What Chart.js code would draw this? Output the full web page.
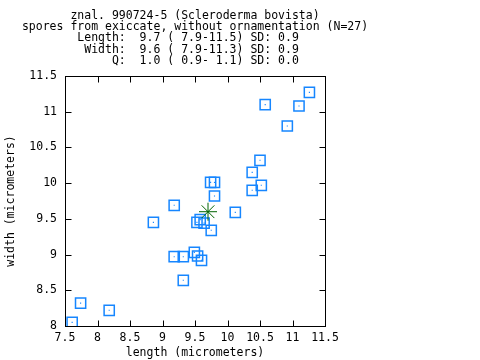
<!DOCTYPE html>
<html>
<head>
<meta charset="utf-8">
<script src="https://cdn.jsdelivr.net/npm/chart.js@4/dist/chart.umd.min.js"></script>
<style>
  html, body { margin: 0; padding: 0; background: #fff; }
  #wrap { width: 480px; height: 360px; }
</style>
</head>
<body>
<div id="wrap"><canvas id="spores"></canvas></div>
<script>
const lengths = [7.61, 7.74, 8.18, 8.86, 9.18, 9.18, 9.32, 9.32, 9.49, 9.54, 9.60, 9.75, 9.53, 9.58,
                 9.64, 10.12, 9.80, 9.74, 9.80, 10.38, 10.52, 10.38, 10.50, 10.92, 10.58, 11.10, 11.26]
const widths = [8.05, 8.32, 8.22, 9.45, 9.69, 8.97, 8.97, 8.64, 9.03, 8.98, 8.92, 9.34, 9.45, 9.49,
                9.44, 9.59, 9.82, 10.01, 10.01, 9.90, 9.97, 10.15, 10.32, 10.80, 11.10, 11.08, 11.27]
const meanPoint = [9.7, 9.6]

const xTicks = [7.5, 8, 8.5, 9, 9.5, 10, 10.5, 11, 11.5]
const yTicks = [8, 8.5, 9, 9.5, 10, 10.5, 11, 11.5]

const headerLines = [
    'znal. 990724-5 (Scleroderma bovista)',
    'spores from exiccate, without ornamentation (N=27)',
    'Length:  9.7 ( 7.9-11.5) SD: 0.9  ',
    ' Width:  9.6 ( 7.9-11.3) SD: 0.9  ',
    '     Q:  1.0 ( 0.9- 1.1) SD: 0.0  ',
]

const FONT = "'DejaVu Sans Mono', monospace"
const BLUE = 'rgb(22,134,255)'

const points = lengths.map((l, i) => ({x: l, y: widths[i]}))

// header text above the plot, centered on the plot area
const headerPlugin = {
    id: 'header',
    afterDraw: chart => {
        const ctx = chart.ctx
        const area = chart.chartArea
        const cx = (area.left + area.right) / 2
        ctx.save()
        ctx.font = '11.5px ' + FONT
        ctx.fillStyle = '#000'
        ctx.textAlign = 'center'
        ctx.textBaseline = 'middle'
        headerLines.forEach((line, i) => {
            ctx.fillText(line, cx, 16 + i * 11.2)
        })
        ctx.restore()
    }
}

// box frame with inward ticks on all four sides
const framePlugin = {
    id: 'frame',
    afterDraw: chart => {
        const ctx = chart.ctx
        const a = chart.chartArea
        const xs = chart.scales.x
        const ys = chart.scales.y
        const tl = 6
        const L = Math.round(a.left) + 0.5
        const R = Math.round(a.right) + 0.5
        const T = Math.round(a.top) + 0.5
        const B = Math.round(a.bottom) + 0.5
        ctx.save()
        ctx.strokeStyle = '#000'
        ctx.lineWidth = 1
        ctx.strokeRect(L, T, R - L, B - T)
        ctx.beginPath()
        for (const v of xTicks) {
            const px = Math.round(xs.getPixelForValue(v)) + 0.5
            ctx.moveTo(px, B)
            ctx.lineTo(px, B - tl)
            ctx.moveTo(px, T)
            ctx.lineTo(px, T + tl)
        }
        for (const v of yTicks) {
            const py = Math.round(ys.getPixelForValue(v)) + 0.5
            ctx.moveTo(L, py)
            ctx.lineTo(L + tl, py)
            ctx.moveTo(R, py)
            ctx.lineTo(R - tl, py)
        }
        ctx.stroke()
        ctx.restore()
    }
}

new Chart(document.getElementById('spores'), {
    type: 'scatter',
    data: {
        datasets: [{
            label: 'mean',
            data: [{x: meanPoint[0], y: meanPoint[1]}],
            pointStyle: 'star',
            pointRadius: 9,
            borderColor: 'rgb(0,100,0)',
            backgroundColor: 'rgb(0,100,0)',
            borderWidth: 1,
        }, {
            label: 'centre',
            data: points,
            pointStyle: 'rect',
            pointRadius: 0.8,
            borderWidth: 0,
            backgroundColor: BLUE,
        }, {
            label: 'spores',
            data: points,
            pointStyle: 'rect',
            pointRadius: 7.2,
            borderColor: BLUE,
            backgroundColor: 'rgba(0,0,0,0)',
            borderWidth: 1.5,
        }]
    },
    options: {
        responsive: true,
        maintainAspectRatio: false,
        animation: false,
        events: [],
        layout: {padding: {top: 76, right: 155, bottom: 0, left: 0}},
        plugins: {
            legend: {display: false},
            tooltip: {enabled: false},
        },
        scales: {
            x: {
                type: 'linear',
                min: 7.5,
                max: 11.5,
                afterBuildTicks: s => { s.ticks = xTicks.map(v => ({value: v})) },
                afterFit: s => { s.height = 34 },
                grid: {display: false, drawTicks: false},
                border: {display: false},
                ticks: {
                    color: '#000',
                    padding: 5,
                    maxRotation: 0,
                    font: {family: FONT, size: 11.5},
                    callback: v => String(v),
                },
                title: {
                    display: true,
                    text: 'length (micrometers)',
                    color: '#000',
                    padding: {top: 2, bottom: 0},
                    font: {family: FONT, size: 11.5},
                },
            },
            y: {
                type: 'linear',
                min: 8,
                max: 11.5,
                afterBuildTicks: s => { s.ticks = yTicks.map(v => ({value: v})) },
                afterFit: s => { s.width = 65 },
                grid: {display: false, drawTicks: false},
                border: {display: false},
                ticks: {
                    color: '#000',
                    padding: 8,
                    font: {family: FONT, size: 11.5},
                    callback: v => String(v),
                },
                title: {
                    display: true,
                    text: 'width (micrometers)',
                    color: '#000',
                    padding: {top: 4, bottom: 0},
                    font: {family: FONT, size: 11.5},
                },
            },
        },
    },
    plugins: [headerPlugin, framePlugin],
})
</script>
</body>
</html>
